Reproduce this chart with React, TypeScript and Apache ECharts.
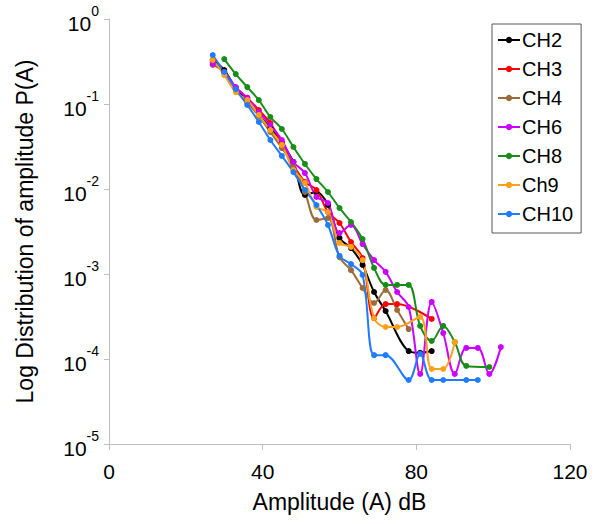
import React, { useEffect, useRef } from "react";
import * as echarts from "echarts";

const seriesNames = ["CH2", "CH3", "CH4", "CH6", "CH8", "Ch9", "CH10"];
const seriesColors = ["#000000", "#ff0000", "#9c6b3c", "#cc00ff", "#1a8c1a", "#ff9f1a", "#1f7bff"];

const ch2A = [27, 30, 33, 36, 39, 42, 45, 48, 51, 54, 57, 60, 63, 66, 69, 72, 78, 81, 84];
const ch2P = [0.33, 0.251, 0.154, 0.111, 0.0743, 0.0522, 0.0348, 0.0208, 0.0085, 0.00922, 0.00648, 0.00265, 0.00202, 0.00128, 0.000614, 0.000367, 0.000124, 0.000118, 0.000124];

const ch3A = [27, 30, 33, 36, 39, 42, 45, 48, 51, 54, 57, 60, 63, 66, 69, 72, 75, 84];
const ch3P = [0.312, 0.238, 0.154, 0.118, 0.085, 0.0598, 0.0348, 0.0192, 0.0121, 0.00973, 0.00536, 0.00398, 0.00238, 0.00154, 0.000303, 0.000443, 0.000443, 0.000296];

const ch4A = [27, 30, 33, 36, 39, 42, 45, 48, 51, 54, 57, 60, 63, 66, 69, 72, 75, 78];
const ch4P = [0.288, 0.238, 0.146, 0.103, 0.0722, 0.0469, 0.0303, 0.0192, 0.00922, 0.00432, 0.00456, 0.00158, 0.00111, 0.000684, 0.000456, 0.000648, 0.000377, 0.000225];

const ch6A = [27, 30, 33, 36, 39, 42, 45, 48, 51, 54, 57, 60, 63, 66, 69, 72, 75, 78, 81, 84, 87, 90, 93, 96, 99, 102];
const ch6P = [0.296, 0.238, 0.158, 0.118, 0.0805, 0.0566, 0.0377, 0.0208, 0.0154, 0.00805, 0.00684, 0.00303, 0.00377, 0.00225, 0.00146, 0.00106, 0.000614, 0.000409, 0.0000667, 0.000469, 0.000202, 0.0000667, 0.000135, 0.000135, 0.0000667, 0.000138];

const ch8A = [30, 33, 36, 39, 42, 45, 48, 51, 54, 57, 60, 63, 66, 69, 72, 75, 78, 81, 84, 87, 90, 93, 99];
const ch8P = [0.338, 0.225, 0.158, 0.111, 0.0703, 0.0508, 0.0312, 0.0197, 0.0131, 0.00922, 0.00598, 0.00409, 0.00258, 0.00118, 0.000743, 0.000743, 0.000743, 0.000245, 0.000163, 0.000245, 0.000158, 0.0000828, 0.0000805];

const ch9A = [27, 30, 33, 36, 39, 42, 45, 48, 51, 54, 57, 60, 63, 66, 69, 72, 75, 81, 84, 87, 90];
const ch9P = [0.33, 0.219, 0.138, 0.111, 0.0743, 0.0494, 0.033, 0.0167, 0.0118, 0.00614, 0.00536, 0.00232, 0.00208, 0.00146, 0.000303, 0.000238, 0.000238, 0.000312, 0.0000763, 0.0000763, 0.000158];

const ch10A = [27, 30, 33, 36, 39, 42, 45, 48, 51, 54, 57, 60, 63, 66, 69, 72, 78, 81, 84, 87, 93, 96];
const ch10P = [0.377, 0.238, 0.15, 0.0973, 0.0614, 0.0377, 0.0245, 0.0158, 0.00973, 0.00648, 0.00377, 0.00163, 0.00131, 0.000973, 0.000111, 0.000111, 0.0000566, 0.000115, 0.0000566, 0.0000566, 0.0000566, 0.0000566];

const xTicks = [0, 40, 80, 120];

const allA = [ch2A, ch3A, ch4A, ch6A, ch8A, ch9A, ch10A];
const allP = [ch2P, ch3P, ch4P, ch6P, ch8P, ch9P, ch10P];

const FONT = "'Liberation Sans', Arial, sans-serif";

export default function App() {
  const ref = useRef<HTMLDivElement>(null);
  useEffect(() => {
    if (!ref.current) return;
    const chart = echarts.init(ref.current, undefined, { renderer: "svg" });
    const series = seriesNames.map((name, i) => ({
      name,
      type: "line",
      smooth: 0.35,
      symbol: "circle",
      symbolSize: 6,
      showSymbol: true,
      lineStyle: { width: 2, color: seriesColors[i] },
      itemStyle: { color: seriesColors[i] },
      data: allA[i].map((a, j) => [a, allP[i][j]]),
    }));
    chart.setOption({
      animation: false,
      backgroundColor: "#ffffff",
      textStyle: { fontFamily: FONT },
      grid: { left: 109, right: 25, top: 19, bottom: 80, outerBoundsMode: "none", containLabel: false },
      legend: {
        orient: "vertical",
        left: 492,
        top: 24,
        data: seriesNames,
        itemWidth: 22,
        itemHeight: 8,
        itemGap: 9,
        padding: [6, 8, 9, 5],
        borderColor: "#595959",
        borderWidth: 1,
        textStyle: { fontSize: 20, color: "#000", fontFamily: FONT, padding: [0, 0, 0, -3], lineHeight: 20 },
      },
      xAxis: {
        type: "value",
        min: xTicks[0],
        max: xTicks[xTicks.length - 1],
        interval: 40,
        name: "Amplitude (A) dB",
        nameLocation: "middle",
        nameGap: 46,
        nameTextStyle: { fontSize: 23, color: "#000", fontFamily: FONT },
        axisLine: { lineStyle: { color: "#bfbfbf", width: 1 } },
        axisTick: { show: true, length: 6, lineStyle: { color: "#bfbfbf" } },
        axisLabel: { fontSize: 21, color: "#000", margin: 17, fontFamily: FONT },
        splitLine: { show: false },
      },
      yAxis: {
        type: "log",
        logBase: 10,
        min: 1e-5,
        max: 1,
        name: "Log Distribution of amplitude P(A)",
        nameLocation: "middle",
        nameGap: 73,
        nameTextStyle: { fontSize: 23, color: "#000", fontFamily: FONT },
        axisLine: { show: true, lineStyle: { color: "#bfbfbf", width: 1 } },
        axisTick: { show: true, length: 5, lineStyle: { color: "#bfbfbf" } },
        axisLabel: {
          margin: 10,
          formatter: (v: number) => {
            const e = Math.round(Math.log10(v));
            return `{b|10}{s|${e}}`;
          },
          rich: {
            b: { fontSize: 21, color: "#000", fontFamily: FONT, lineHeight: 30, verticalAlign: "bottom" },
            s: { fontSize: 14, color: "#000", fontFamily: FONT, lineHeight: 30, verticalAlign: "top" },
          },
        },
        splitLine: { show: false },
      },
      series,
    });
    return () => chart.dispose();
  }, []);
  return (
    <div
      ref={ref}
      style={{ position: "absolute", left: 0, top: 0, width: 595, height: 524, background: "#fff" }}
    />
  );
}
